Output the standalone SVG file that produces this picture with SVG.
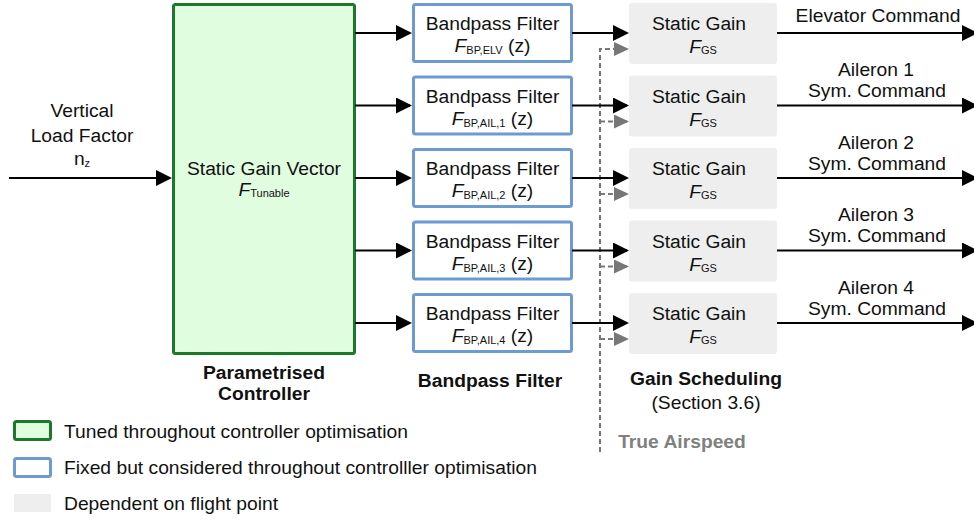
<svg xmlns="http://www.w3.org/2000/svg" width="974" height="521" viewBox="0 0 974 521">
  <defs>
    <style>
      text { font-family: "Liberation Sans", Arial, sans-serif; font-size: 19.25px; fill: #111; }
      .mid { text-anchor: middle; }
      .b { font-weight: bold; }
      .sub { font-size: 11px; }
      .it { font-style: italic; }
      .tuned { fill: #e0fde0; stroke: #1a7a2a; stroke-width: 3; }
      .fixed { fill: #ffffff; stroke: #6c9bd2; stroke-width: 3; }
      .sched { fill: #eeeeee; }
      .wire { fill: none; stroke: #000; stroke-width: 2; }
      .sched-wire { fill: none; stroke: #777; stroke-width: 2; stroke-dasharray: 5 3; }
    </style>
    <marker id="arrow" markerUnits="userSpaceOnUse" viewBox="0 0 16 16" refX="14" refY="8" markerWidth="16" markerHeight="16" orient="auto">
      <path d="M0,0 L16,8 L0,16 z" fill="#000"/>
    </marker>
    <marker id="arrow-grey" markerUnits="userSpaceOnUse" viewBox="0 0 15 14" refX="13" refY="7" markerWidth="15" markerHeight="14" orient="auto">
      <path d="M0,0 L15,7 L0,14 z" fill="#777"/>
    </marker>
  </defs>

  <!-- input label -->
  <g id="input-label">
    <text class="mid" x="82" y="117">Vertical</text>
    <text class="mid" x="82" y="142">Load Factor</text>
    <text class="mid" x="82" y="165">n<tspan class="sub" dy="2">z</tspan></text>
  </g>

  <!-- tunable static gain vector -->
  <g id="gain-vector">
    <rect class="tuned" x="173.5" y="4.5" width="181" height="349" rx="2"/>
    <text class="mid" x="264" y="175">Static Gain Vector</text>
    <text class="mid" x="264" y="196"><tspan class="it">F</tspan><tspan class="sub" dy="1">Tunable</tspan></text>
  </g>

  <!-- bandpass filters -->
  <g id="bp-elv">
    <rect class="fixed" x="413.5" y="4.5" width="158" height="57" rx="2"/>
    <text class="mid" x="492.5" y="30">Bandpass Filter</text>
    <text class="mid" x="492.5" y="52"><tspan class="it">F</tspan><tspan class="sub" dy="2">BP,ELV</tspan><tspan dy="-2"> (z)</tspan></text>
  </g>
  <g id="bp-ail1">
    <rect class="fixed" x="413.5" y="77" width="158" height="57" rx="2"/>
    <text class="mid" x="492.5" y="102.5">Bandpass Filter</text>
    <text class="mid" x="492.5" y="124.5"><tspan class="it">F</tspan><tspan class="sub" dy="2">BP,AIL,1</tspan><tspan dy="-2"> (z)</tspan></text>
  </g>
  <g id="bp-ail2">
    <rect class="fixed" x="413.5" y="149.5" width="158" height="57" rx="2"/>
    <text class="mid" x="492.5" y="175">Bandpass Filter</text>
    <text class="mid" x="492.5" y="197"><tspan class="it">F</tspan><tspan class="sub" dy="2">BP,AIL,2</tspan><tspan dy="-2"> (z)</tspan></text>
  </g>
  <g id="bp-ail3">
    <rect class="fixed" x="413.5" y="222" width="158" height="57" rx="2"/>
    <text class="mid" x="492.5" y="247.5">Bandpass Filter</text>
    <text class="mid" x="492.5" y="269.5"><tspan class="it">F</tspan><tspan class="sub" dy="2">BP,AIL,3</tspan><tspan dy="-2"> (z)</tspan></text>
  </g>
  <g id="bp-ail4">
    <rect class="fixed" x="413.5" y="294.5" width="158" height="57" rx="2"/>
    <text class="mid" x="492.5" y="320">Bandpass Filter</text>
    <text class="mid" x="492.5" y="342"><tspan class="it">F</tspan><tspan class="sub" dy="2">BP,AIL,4</tspan><tspan dy="-2"> (z)</tspan></text>
  </g>

  <!-- scheduled static gains -->
  <g id="gs-elv">
    <rect class="sched" x="629" y="3" width="148" height="61" rx="3"/>
    <text class="mid" x="699" y="30">Static Gain</text>
    <text class="mid" x="703" y="53"><tspan class="it">F</tspan><tspan class="sub" dy="1">GS</tspan></text>
  </g>
  <g id="gs-ail1">
    <rect class="sched" x="629" y="75.5" width="148" height="61" rx="3"/>
    <text class="mid" x="699" y="102.5">Static Gain</text>
    <text class="mid" x="703" y="125.5"><tspan class="it">F</tspan><tspan class="sub" dy="1">GS</tspan></text>
  </g>
  <g id="gs-ail2">
    <rect class="sched" x="629" y="148" width="148" height="61" rx="3"/>
    <text class="mid" x="699" y="175">Static Gain</text>
    <text class="mid" x="703" y="198"><tspan class="it">F</tspan><tspan class="sub" dy="1">GS</tspan></text>
  </g>
  <g id="gs-ail3">
    <rect class="sched" x="629" y="220.5" width="148" height="61" rx="3"/>
    <text class="mid" x="699" y="247.5">Static Gain</text>
    <text class="mid" x="703" y="270.5"><tspan class="it">F</tspan><tspan class="sub" dy="1">GS</tspan></text>
  </g>
  <g id="gs-ail4">
    <rect class="sched" x="629" y="293" width="148" height="61" rx="3"/>
    <text class="mid" x="699" y="320">Static Gain</text>
    <text class="mid" x="703" y="343"><tspan class="it">F</tspan><tspan class="sub" dy="1">GS</tspan></text>
  </g>

  <!-- output labels -->
  <g id="outputs">
    <text class="mid" x="878" y="22">Elevator Command</text>
    <text class="mid" x="876" y="76">Aileron 1</text>
    <text class="mid" x="877" y="97">Sym. Command</text>
    <text class="mid" x="876" y="148.5">Aileron 2</text>
    <text class="mid" x="877" y="169.5">Sym. Command</text>
    <text class="mid" x="876" y="221">Aileron 3</text>
    <text class="mid" x="877" y="242">Sym. Command</text>
    <text class="mid" x="876" y="293.5">Aileron 4</text>
    <text class="mid" x="877" y="314.5">Sym. Command</text>
  </g>

  <!-- column captions -->
  <g id="captions">
    <text class="mid b" x="264" y="379">Parametrised</text>
    <text class="mid b" x="264" y="400">Controller</text>
    <text class="mid b" x="490" y="387">Bandpass Filter</text>
    <text class="mid b" x="706" y="385">Gain Scheduling</text>
    <text class="mid" x="706" y="409">(Section 3.6)</text>
    <text class="mid b" x="682" y="448" style="fill:#808080">True Airspeed</text>
  </g>

  <!-- connectors -->
  <g id="connectors">
    <!-- scheduling variable -->
    <path class="sched-wire" d="M600,452 V49 H627" marker-end="url(#arrow-grey)"/>
    <path class="sched-wire" d="M600,121.5 H627" marker-end="url(#arrow-grey)"/>
    <path class="sched-wire" d="M600,194 H627" marker-end="url(#arrow-grey)"/>
    <path class="sched-wire" d="M600,266.5 H627" marker-end="url(#arrow-grey)"/>
    <path class="sched-wire" d="M600,339 H627" marker-end="url(#arrow-grey)"/>

    <path class="wire" d="M9,178 H170" marker-end="url(#arrow)"/>

    <path class="wire" d="M355,33 H410" marker-end="url(#arrow)"/>
    <path class="wire" d="M355,105.5 H410" marker-end="url(#arrow)"/>
    <path class="wire" d="M355,178 H410" marker-end="url(#arrow)"/>
    <path class="wire" d="M355,250.5 H410" marker-end="url(#arrow)"/>
    <path class="wire" d="M355,323 H410" marker-end="url(#arrow)"/>

    <path class="wire" d="M572,33 H627" marker-end="url(#arrow)"/>
    <path class="wire" d="M572,105.5 H627" marker-end="url(#arrow)"/>
    <path class="wire" d="M572,178 H627" marker-end="url(#arrow)"/>
    <path class="wire" d="M572,250.5 H627" marker-end="url(#arrow)"/>
    <path class="wire" d="M572,323 H627" marker-end="url(#arrow)"/>

    <path class="wire" d="M777,33 H976" marker-end="url(#arrow)"/>
    <path class="wire" d="M777,105.5 H976" marker-end="url(#arrow)"/>
    <path class="wire" d="M777,178 H976" marker-end="url(#arrow)"/>
    <path class="wire" d="M777,250.5 H976" marker-end="url(#arrow)"/>
    <path class="wire" d="M777,323 H976" marker-end="url(#arrow)"/>
  </g>

  <!-- legend -->
  <g id="legend">
    <rect class="tuned" x="14.5" y="421.5" width="36" height="18" rx="2"/>
    <text x="64" y="438">Tuned throughout controller optimisation</text>
    <rect class="fixed" x="14.5" y="458.5" width="36" height="18" rx="2"/>
    <text x="64" y="474">Fixed but considered throughout controlller optimisation</text>
    <rect class="sched" x="14" y="494" width="37" height="18"/>
    <text x="64" y="510">Dependent on flight point</text>
  </g>
</svg>
